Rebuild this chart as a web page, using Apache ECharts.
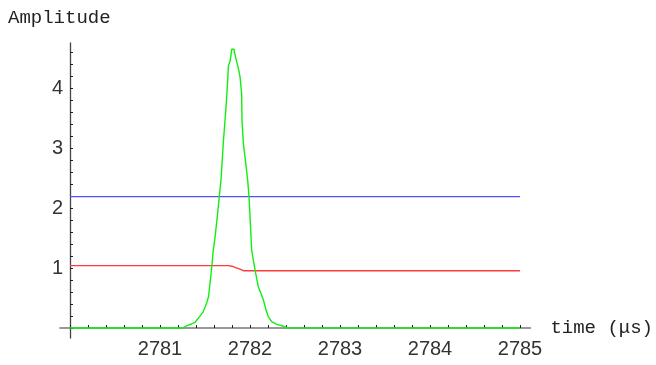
<!DOCTYPE html>
<html>
<head>
<meta charset="utf-8">
<script src="https://cdn.jsdelivr.net/npm/echarts@6/dist/echarts.min.js"></script>
<style>
  html, body { margin: 0; padding: 0; background: #fff; }
  #chart { width: 656px; height: 365px; }
</style>
</head>
<body>
<div id="chart"></div>
<script>
// Pulse amplitude versus time (µs)
const pulseTime = [2780, 2781.25, 2781.26, 2781.30, 2781.35, 2781.39, 2781.44, 2781.48, 2781.52, 2781.54,
  2781.556, 2781.574, 2781.592, 2781.611, 2781.636, 2781.659, 2781.678, 2781.703, 2781.733, 2781.748,
  2781.761, 2781.778, 2781.796, 2781.797, 2781.824, 2781.826, 2781.837, 2781.852, 2781.870, 2781.889,
  2781.907, 2781.911, 2781.926, 2781.950, 2781.974, 2781.989, 2782.019, 2782.037, 2782.056, 2782.092,
  2782.148, 2782.180, 2782.203, 2782.241, 2782.297, 2782.370, 2782.410, 2782.420, 2785];
const pulseAmp = [0, 0, 0.01, 0.04, 0.067, 0.095, 0.19, 0.27, 0.42, 0.53,
  0.75, 1.0, 1.3, 1.5, 1.85, 2.19, 2.47, 3.08, 3.67, 4.02,
  4.38, 4.44, 4.47, 4.645, 4.645, 4.6, 4.6, 4.44, 4.33, 4.19,
  3.91, 3.47, 3.08, 2.78, 2.47, 2.19, 1.3, 1.13, 0.97, 0.69,
  0.47, 0.29, 0.19, 0.105, 0.06, 0.033, 0.005, 0, 0];

const levelTime = [2780, 2781.759, 2781.80, 2781.833, 2781.889, 2781.926, 2785];
const levelAmp = [1.04, 1.04, 1.03, 1.01, 0.98, 0.955, 0.955];

const thresholdTime = [2780, 2785];
const thresholdAmp = [2.19, 2.19];

const xTickLabels = ['2781', '2782', '2783', '2784', '2785'];
const yTickLabels = ['1', '2', '3', '4'];

const zip = (xs, ys) => xs.map((x, i) => [x, ys[i]]);

const tickFont = { fontFamily: 'Liberation Sans', fontSize: 20, color: '#333' };
const monoFont = 'Liberation Mono';

function majorLabel(list) {
  return v => {
    const r = Math.round(v);
    return Math.abs(v - r) < 1e-6 && list.indexOf(String(r)) >= 0 ? String(r) : '';
  };
}

const chart = echarts.init(document.getElementById('chart'), null, { renderer: 'canvas' });

chart.setOption({
  backgroundColor: '#ffffff',
  animation: false,
  title: {
    text: 'Amplitude',
    left: 3, top: 3,
    textStyle: { fontFamily: monoFont, fontSize: 19, fontWeight: 'normal', color: '#222' }
  },
  grid: [
    // frame for the axis lines, crossing at the origin (2780, 0)
    { left: 60, right: 124, top: 43, bottom: 27 },
    // plotting area: 2780..2785 by 0..4.6
    { left: 70, right: 136, top: 52, bottom: 37 }
  ],
  xAxis: [
    {
      type: 'value', gridIndex: 0,
      min: -10 / 90, max: 5 + 12 / 90,
      axisLine: { show: true, onZero: true, lineStyle: { color: '#777', width: 1.6 } },
      axisTick: { show: false }, axisLabel: { show: false }, splitLine: { show: false },
      name: 'time (μs)', nameLocation: 'end', nameGap: 20,
      nameTextStyle: { fontFamily: monoFont, fontSize: 19, color: '#222', verticalAlign: 'middle' }
    },
    {
      type: 'value', gridIndex: 1,
      min: 2780, max: 2785, interval: 0.2,
      axisLine: { show: false },
      axisTick: { show: true, inside: true, length: 3, lineStyle: { color: '#222', width: 1 } },
      axisLabel: Object.assign({ margin: 11, formatter: majorLabel(xTickLabels) }, tickFont),
      splitLine: { show: false }
    }
  ],
  yAxis: [
    {
      type: 'value', gridIndex: 0,
      min: -10 / 60, max: 4.75,
      axisLine: { show: true, onZero: true, lineStyle: { color: '#444', width: 1.3 } },
      axisTick: { show: false }, axisLabel: { show: false }, splitLine: { show: false }
    },
    {
      type: 'value', gridIndex: 1,
      min: 0, max: 4.6, interval: 0.2,
      axisLine: { show: false },
      axisTick: { show: true, inside: true, length: 3, lineStyle: { color: '#222', width: 1 } },
      axisLabel: Object.assign({ margin: 7, formatter: majorLabel(yTickLabels) }, tickFont),
      splitLine: { show: false }
    }
  ],
  series: [
    {
      name: 'threshold', type: 'line', xAxisIndex: 1, yAxisIndex: 1,
      data: zip(thresholdTime, thresholdAmp), showSymbol: false, clip: false,
      lineStyle: { color: '#4f4fff', width: 1.4 }
    },
    {
      name: 'level', type: 'line', xAxisIndex: 1, yAxisIndex: 1,
      data: zip(levelTime, levelAmp), showSymbol: false, clip: false,
      lineStyle: { color: '#ff3a3a', width: 1.4 }
    },
    {
      name: 'pulse', type: 'line', xAxisIndex: 1, yAxisIndex: 1,
      data: zip(pulseTime, pulseAmp), showSymbol: false, clip: false,
      lineStyle: { color: '#11ee11', width: 1.4 }
    }
  ]
});
</script>
</body>
</html>
